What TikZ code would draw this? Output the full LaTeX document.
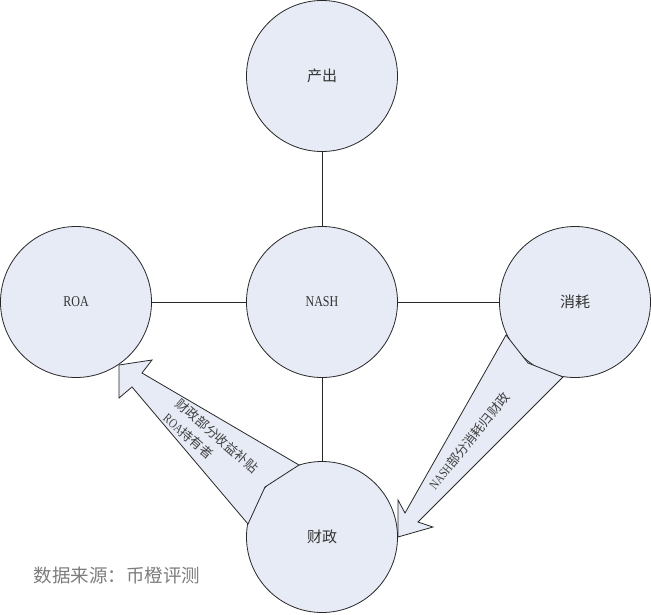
\documentclass[tikz,border=0pt]{standalone}
\usepackage{fontspec}
\setmainfont{Liberation Serif}
\newfontfamily\cjk{Noto Sans CJK SC}
\newfontfamily\narrowserif[FakeStretch=0.8]{Liberation Serif}
\definecolor{circfill}{RGB}{230,235,245}
\definecolor{edgecol}{RGB}{40,40,40}
\definecolor{notegray}{RGB}{125,125,125}
\tikzset{
  bubble/.style={circle, draw=edgecol, line width=0.8pt, fill=circfill, minimum size=151pt, inner sep=0pt, font=\fontsize{15}{18}\selectfont, text=black!80},
  link/.style={draw=edgecol, line width=0.8pt},
  blockarrow/.style={draw=edgecol, line width=0.8pt, fill=circfill, line join=miter},
  arrowtext/.style={font=\fontsize{13}{19}\selectfont, text=black!75, inner sep=0pt}
}
\begin{document}
\begin{tikzpicture}[x=1pt,y=-1pt]
\useasboundingbox (0,0) rectangle (651,614);
\fill[white] (0,0) rectangle (651,614);
% circles
\node[bubble] (out)  at (322,76)  {\cjk 产出};
\node[bubble] (nash) at (322,302) {\narrowserif NASH};
\node[bubble] (roa)  at (76,302)  {\narrowserif ROA};
\node[bubble] (cons) at (575,302) {\cjk 消耗};
\node[bubble] (fin)  at (322,537) {\cjk 财政};
% connectors
\draw[link] (out) -- (nash);
\draw[link] (roa) -- (nash);
\draw[link] (nash) -- (cons);
\draw[link] (nash) -- (fin);
% block arrow: 财政 -> ROA
\draw[blockarrow] (119,365) -- (152,360) -- (142,373) -- (299,465) -- (265,487) -- (248,524) -- (132,387) -- (119,398) -- cycle;
\node[arrowtext, rotate=-41, align=left] (lblA) at (211,443) {{\cjk 财政部分收益补贴}\\{\narrowserif ROA}{\cjk 持有者}};
% block arrow: 消耗 -> 财政
\draw[blockarrow] (506,335) -- (528,363) -- (563,377) -- (418,522) -- (433,527) -- (398,537) -- (398,500) -- (405,513) -- cycle;
\node[arrowtext, rotate=51] (lblB) at (469,441) {{\narrowserif NASH}{\cjk 部分消耗归财政}};
% source note
\node[font=\fontsize{18.5}{22}\selectfont, text=notegray, inner sep=0pt] (src) at (117,575) {\cjk 数据来源：币橙评测};
\end{tikzpicture}
\end{document}
